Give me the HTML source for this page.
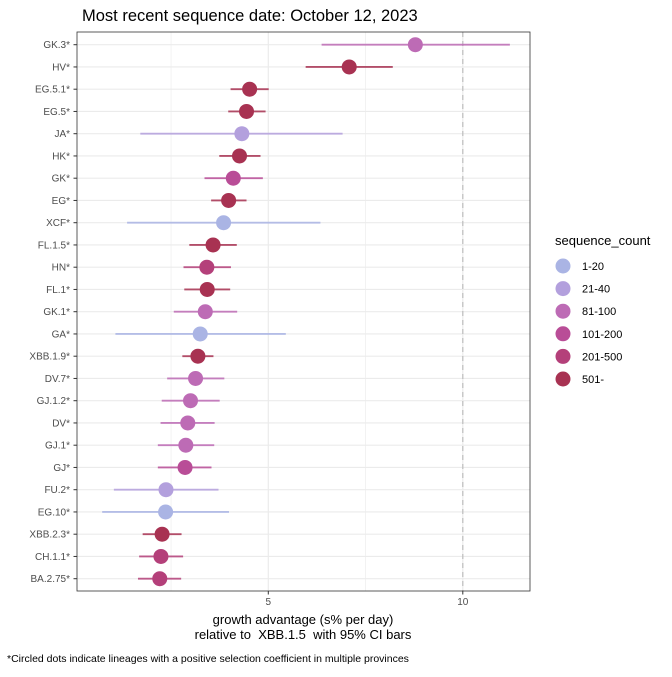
<!DOCTYPE html>
<html><head><meta charset="utf-8"><style>
body{margin:0;background:#fff;font-family:"Liberation Sans",sans-serif}
svg text{font-family:"Liberation Sans",sans-serif}
</style></head><body>
<svg id="chart" width="672" height="672">
<text x="82" y="21" font-size="16.5" fill="#000">Most recent sequence date: October 12, 2023</text>
<g id="grid"></g><g id="marks"></g><g id="axes"></g>
<text x="303" y="624" font-size="13" text-anchor="middle" fill="#000">growth advantage (s% per day)</text>
<text x="303" y="639" font-size="13" text-anchor="middle" fill="#000" xml:space="preserve">relative to  XBB.1.5  with 95% CI bars</text>
<text x="7" y="662" font-size="10.5" fill="#000">*Circled dots indicate lineages with a positive selection coefficient in multiple provinces</text>
<g id="legend"></g>
</svg>
<script>
const lineages=["GK.3*","HV*","EG.5.1*","EG.5*","JA*","HK*","GK*","EG*","XCF*","FL.1.5*","HN*","FL.1*","GK.1*","GA*","XBB.1.9*","DV.7*","GJ.1.2*","DV*","GJ.1*","GJ*","FU.2*","EG.10*","XBB.2.3*","CH.1.1*","BA.2.75*"];
const estimate=[8.78,7.08,4.52,4.44,4.32,4.26,4.10,3.98,3.85,3.58,3.42,3.43,3.38,3.25,3.19,3.13,3.00,2.93,2.88,2.86,2.37,2.36,2.27,2.24,2.21];
const lower=[6.37,5.96,4.03,3.97,1.71,3.74,3.36,3.53,1.37,2.97,2.82,2.84,2.57,1.07,2.79,2.40,2.26,2.23,2.16,2.16,1.03,0.73,1.77,1.68,1.65];
const upper=[11.21,8.2,5.01,4.93,6.91,4.80,4.86,4.44,6.34,4.19,4.04,4.02,4.20,5.45,3.59,3.87,3.75,3.62,3.61,3.54,3.72,3.99,2.77,2.81,2.76];
const countGroup=[2,5,5,5,1,5,3,5,0,5,4,5,2,0,5,2,2,2,2,3,1,0,5,4,4];
const groupLabels=["1-20","21-40","81-100","101-200","201-500","501-"];
const groupColors=["#aab4e4","#b3a0dd","#bd6bb5","#b94d97","#b4407a","#a83252"];
const xTicks=[5,10];
const xMinor=[2.5,7.5];
const refLine=10;

const NS="http://www.w3.org/2000/svg";
const L=77,R=530,T=32,B=591;
const x=v=>73.8+v*38.9;
const y=i=>44.7+i*22.25;
function mk(tag,attrs,parent){const e=document.createElementNS(NS,tag);for(const k in attrs)e.setAttribute(k,attrs[k]);document.getElementById(parent).appendChild(e);return e;}
mk("rect",{x:L,y:T,width:R-L,height:B-T,fill:"#fff"},"grid");
xMinor.forEach(v=>mk("line",{x1:x(v),x2:x(v),y1:T,y2:B,stroke:"#f0f0f0","stroke-width":0.8},"grid"));
xTicks.forEach(v=>mk("line",{x1:x(v),x2:x(v),y1:T,y2:B,stroke:"#ebebeb","stroke-width":1.2},"grid"));
lineages.forEach((n,i)=>mk("line",{x1:L,x2:R,y1:y(i),y2:y(i),stroke:"#ebebeb","stroke-width":1.2},"grid"));
const rl=mk("line",{x1:x(refLine),x2:x(refLine),y1:T,y2:B,stroke:"#bdbdbd","stroke-width":1.2,"stroke-dasharray":"5,4"},"grid");


lineages.forEach((n,i)=>{
  const c=groupColors[countGroup[i]];
  const eb=mk("line",{x1:x(lower[i]),x2:x(upper[i]),y1:y(i),y2:y(i),stroke:c,"stroke-width":1.8,opacity:0.85},"marks");
  
  
  const p=mk("circle",{cx:x(estimate[i]),cy:y(i),r:7.5,fill:c},"marks");
  
  
  const t=mk("text",{x:70,y:y(i)+3.5,"font-size":10,"text-anchor":"end",fill:"#4d4d4d"},"axes");
  t.textContent=n;
  
  
  mk("line",{x1:73.5,x2:L,y1:y(i),y2:y(i),stroke:"#333","stroke-width":1},"axes");
});
mk("rect",{x:L,y:T,width:R-L,height:B-T,fill:"none",stroke:"#333","stroke-width":0.8},"axes");
xTicks.forEach(v=>{
  mk("line",{x1:x(v),x2:x(v),y1:B,y2:B+3.5,stroke:"#333","stroke-width":1},"axes");
  const t=mk("text",{x:x(v),y:B+14,"font-size":10,"text-anchor":"middle",fill:"#4d4d4d"},"axes");
  t.textContent=v;
  
  
});
const lt=mk("text",{x:555,y:245,"font-size":13,fill:"#000"},"legend");
lt.textContent="sequence_count";


groupLabels.forEach((g,k)=>{
  const cy=266+k*22.6;
  const c=mk("circle",{cx:563,cy:cy,r:7.5,fill:groupColors[k]},"legend");
  
  
  const t=mk("text",{x:582,y:cy+4,"font-size":11,fill:"#000"},"legend");
  t.textContent=g;
  
  
});
</script>
</body></html>
